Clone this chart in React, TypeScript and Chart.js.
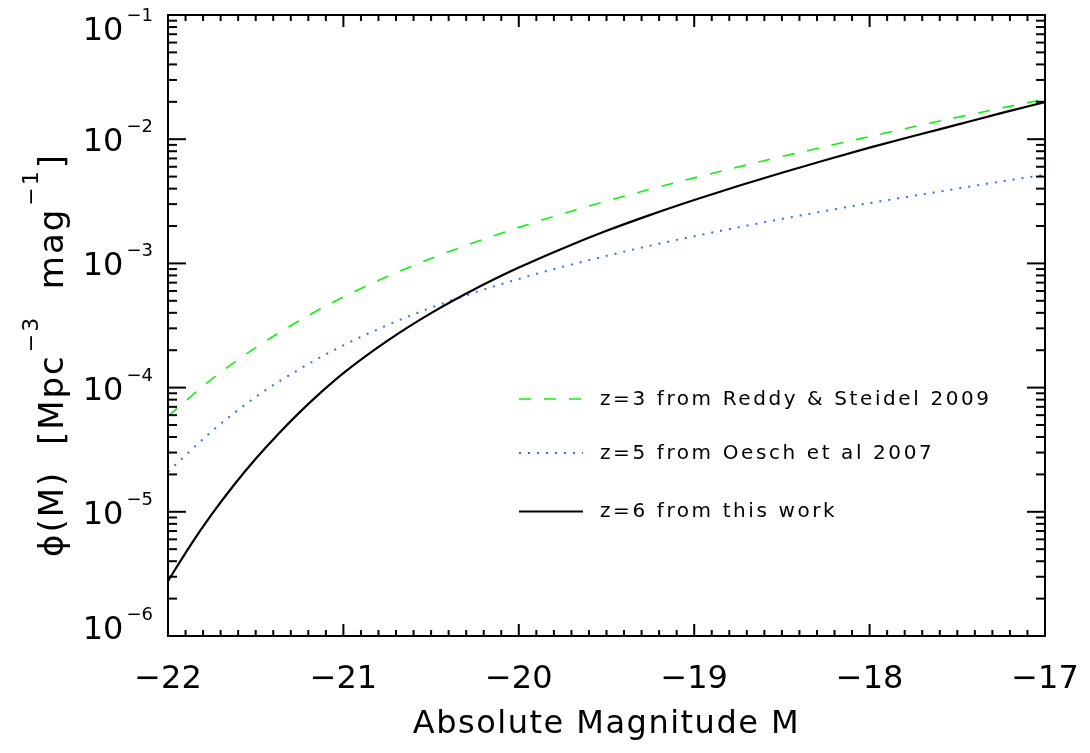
import { useEffect, useRef } from 'react';
import { Chart, registerables } from 'chart.js';

Chart.register(...registerables);

// Absolute magnitude grid (x values) for the published fits
const magnitudes = [
  -22, -21.75, -21.5, -21.25, -21, -20.75, -20.5, -20.25, -20, -19.75, -19.5,
  -19.25, -19, -18.75, -18.5, -18.25, -18, -17.75, -17.5, -17.25, -17,
];

// z=3 from Reddy & Steidel 2009 (green dashed)
const phiZ3 = [
  5.9e-5, 1.17e-4, 2.1e-4, 3.47e-4, 5.36e-4, 7.83e-4, 1.096e-3, 1.48e-3, 1.95e-3,
  2.51e-3, 3.17e-3, 3.96e-3, 4.88e-3, 5.97e-3, 7.25e-3, 8.75e-3, 1.05e-2, 1.26e-2,
  1.5e-2, 1.78e-2, 2.1e-2,
];

// z=5 from Oesch et al 2007 (blue dotted)
const phiZ5 = [
  2.1e-5, 4.45e-5, 8.4e-5, 1.41e-4, 2.19e-4, 3.18e-4, 4.4e-4, 5.84e-4, 7.5e-4,
  9.4e-4, 1.15e-3, 1.39e-3, 1.655e-3, 1.95e-3, 2.28e-3, 2.65e-3, 3.06e-3, 3.5e-3,
  4.0e-3, 4.57e-3, 5.18e-3,
];

// z=6 from this work (black solid) - finer grid on the steep bright end
const magnitudesZ6 = [
  -22, -21.875, -21.75, -21.625, -21.5, -21.375, -21.25, -21.125, -21, -20.75,
  -20.5, -20.25, -20, -19.75, -19.5, -19.25, -19, -18.75, -18.5, -18.25, -18,
  -17.75, -17.5, -17.25, -17,
];
const phiZ6 = [
  2.77e-6, 5.3e-6, 9.56e-6, 1.635e-5, 2.67e-5, 4.18e-5, 6.32e-5, 9.23e-5, 1.309e-4,
  2.38e-4, 3.98e-4, 6.22e-4, 9.25e-4, 1.32e-3, 1.83e-3, 2.46e-3, 3.24e-3, 4.2e-3,
  5.37e-3, 6.8e-3, 8.55e-3, 1.06e-2, 1.31e-2, 1.62e-2, 1.99e-2,
];

const seriesLabels = [
  'z=3 from Reddy & Steidel 2009',
  'z=5 from Oesch et al 2007',
  'z=6 from this work',
];

const xTickValues = [-22, -21, -20, -19, -18, -17];
const xTickLabels = ['\u221222', '\u221221', '\u221220', '\u221219', '\u221218', '\u221217'];
const yTickExponents = [-1, -2, -3, -4, -5, -6];
const xTitle = 'Absolute Magnitude M';

const W = 1090;
const H = 753;
const FONT = '"DejaVu Sans", "Liberation Sans", sans-serif';

const decorPlugin = {
  id: 'decor',
  afterDatasetsDraw(chart: any) {
    const { ctx, chartArea: a, scales } = chart;
    const xs = scales.x;
    const ys = scales.y;
    ctx.save();
    ctx.strokeStyle = '#000';
    ctx.fillStyle = '#000';
    ctx.lineWidth = 2;
    ctx.lineCap = 'butt';
    const seg = (x1: number, y1: number, x2: number, y2: number) => {
      ctx.beginPath();
      ctx.moveTo(x1, y1);
      ctx.lineTo(x2, y2);
      ctx.stroke();
    };

    // frame
    ctx.strokeRect(a.left, a.top, a.right - a.left, a.bottom - a.top);

    // x ticks (bottom and top), minor every 0.1
    const xmin = xs.min;
    const xmax = xs.max;
    const nx = Math.round((xmax - xmin) * 10);
    for (let i = 0; i <= nx; i++) {
      const v = xmin + i / 10;
      const px = xs.getPixelForValue(v);
      const major = i % 10 === 0;
      const len = major ? 12 : 6;
      seg(px, a.bottom, px, a.bottom - len);
      seg(px, a.top, px, a.top + len);
    }

    // y ticks (left and right)
    for (let e = -6; e <= -1; e++) {
      for (let k = 1; k <= 9; k++) {
        const v = k * Math.pow(10, e);
        if (v > ys.max * 1.0001) break;
        const py = ys.getPixelForValue(v);
        const len = k === 1 ? 18 : 9;
        seg(a.left, py, a.left + len, py);
        seg(a.right, py, a.right - len, py);
      }
    }

    // x tick labels
    ctx.font = `32px ${FONT}`;
    ctx.textAlign = 'center';
    ctx.textBaseline = 'alphabetic';
    xTickValues.forEach((v, i) => {
      ctx.fillText(xTickLabels[i], xs.getPixelForValue(v), a.bottom + 52);
    });

    // y tick labels 10^e
    const labelRight = a.left - 15;
    yTickExponents.forEach((e) => {
      const ty = ys.getPixelForValue(Math.pow(10, e));
      const cy = Math.min(Math.max(ty, a.top + 13), a.bottom - 9);
      const base = cy + 12;
      ctx.textAlign = 'right';
      ctx.font = `18px ${FONT}`;
      const expText = '\u2212' + String(-e);
      const ew = ctx.measureText(expText).width;
      ctx.fillText(expText, labelRight, base - 19);
      ctx.font = `32px ${FONT}`;
      ctx.fillText('10', labelRight - ew - 3, base);
    });

    // x title
    ctx.textAlign = 'center';
    ctx.font = `32px ${FONT}`;
    (ctx as any).letterSpacing = '1.5px';
    ctx.fillText(xTitle, (a.left + a.right) / 2, a.bottom + 97);
    (ctx as any).letterSpacing = '0px';

    // y title (rotated)
    const parts: [string, boolean][] = [
      ['\u03D5(M)  [Mpc', false],
      ['\u22123', true],
      ['  mag', false],
      ['\u22121', true],
      [']', false],
    ];
    const mainF = `34px ${FONT}`;
    const expF = `22px ${FONT}`;
    (ctx as any).letterSpacing = '2px';
    let total = 0;
    const widths = parts.map(([t, sup]) => {
      ctx.font = sup ? expF : mainF;
      const w = ctx.measureText(t).width + (sup ? 3 : 0);
      total += w;
      return w;
    });
    ctx.save();
    ctx.translate(63, 355);
    ctx.rotate(-Math.PI / 2);
    ctx.textAlign = 'left';
    let cx = -total / 2;
    parts.forEach(([t, sup], i) => {
      ctx.font = sup ? expF : mainF;
      ctx.fillText(t, cx + (sup ? 2 : 0), sup ? -25 : 0);
      cx += widths[i];
    });
    ctx.restore();
    (ctx as any).letterSpacing = '0px';

    // legend inside plot
    const rows = [399, 453, 511.5];
    const lx0 = 519;
    const lx1 = 583;
    const tx = 600;
    chart.data.datasets.forEach((ds: any, i: number) => {
      const y = rows[i];
      ctx.save();
      ctx.strokeStyle = ds.borderColor;
      ctx.lineWidth = ds.borderWidth;
      ctx.setLineDash(ds.borderDash || []);
      ctx.beginPath();
      ctx.moveTo(lx0, y);
      ctx.lineTo(lx1, y);
      ctx.stroke();
      ctx.restore();
      ctx.font = `20px ${FONT}`;
      ctx.textAlign = 'left';
      (ctx as any).letterSpacing = '2.6px';
      ctx.fillText(ds.label, tx, y + 5.5);
      (ctx as any).letterSpacing = '0px';
    });

    ctx.restore();
  },
};

export default function App() {
  const ref = useRef<HTMLCanvasElement>(null);

  useEffect(() => {
    const canvas = ref.current;
    if (!canvas) return;
    const mk = (xs: number[], vals: number[]) => xs.map((m, i) => ({ x: m, y: vals[i] }));
    const chart = new Chart(canvas, {
      type: 'line',
      data: {
        datasets: [
          {
            label: seriesLabels[0],
            data: mk(magnitudes, phiZ3),
            borderColor: '#10f010',
            borderWidth: 1.6,
            borderDash: [12, 13],
            pointRadius: 0,
            cubicInterpolationMode: 'monotone',
            fill: false,
            order: 2,
          },
          {
            label: seriesLabels[1],
            data: mk(magnitudes, phiZ5),
            borderColor: '#2f6fff',
            borderWidth: 2,
            borderDash: [2, 7],
            pointRadius: 0,
            cubicInterpolationMode: 'monotone',
            fill: false,
            order: 1,
          },
          {
            label: seriesLabels[2],
            data: mk(magnitudesZ6, phiZ6),
            borderColor: '#000000',
            borderWidth: 2.2,
            borderDash: [],
            pointRadius: 0,
            cubicInterpolationMode: 'monotone',
            fill: false,
            order: 0,
          },
        ],
      },
      options: {
        responsive: false,
        animation: false,
        devicePixelRatio: 1,
        events: [],
        layout: { padding: { left: 168, right: 45, top: 15, bottom: 117 } },
        scales: {
          x: { type: 'linear', min: -22, max: -17, display: false },
          y: { type: 'logarithmic', min: 1e-6, max: 1e-1, display: false },
        },
        plugins: {
          legend: { display: false },
          tooltip: { enabled: false },
        },
      },
      plugins: [decorPlugin],
    } as any);
    return () => chart.destroy();
  }, []);

  return (
    <div style={{ position: 'fixed', left: 0, top: 0, width: W, height: H, background: '#fff' }}>
      <canvas ref={ref} width={W} height={H} style={{ display: 'block', width: W, height: H }} />
    </div>
  );
}
